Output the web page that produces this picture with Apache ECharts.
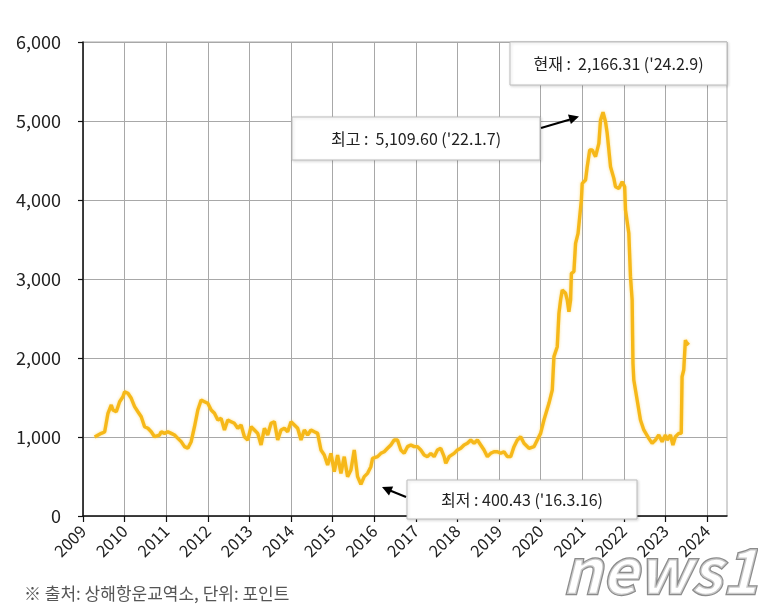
<!DOCTYPE html>
<html>
<head>
<meta charset="utf-8">
<script src="https://cdn.jsdelivr.net/npm/echarts@6/dist/echarts.min.js"></script>
<style>
html,body{margin:0;padding:0;background:#fff;}
#chart{width:758px;height:610px;}
</style>
</head>
<body>
<div id="chart"></div>
<script>
// Decimal position on the year axis (as plotted) and SCFI index value
const dates = [
2009.28,2009.44,2009.52,2009.60,2009.68,2009.72,2009.80,2009.88,2009.96,2010.00,
2010.08,2010.16,2010.24,2010.32,2010.40,2010.48,2010.56,2010.64,2010.72,2010.84,
2010.88,2010.96,2011.04,2011.12,2011.20,2011.28,2011.36,2011.44,2011.52,2011.60,
2011.68,2011.76,2011.84,2011.92,2012.00,2012.08,2012.16,2012.24,2012.32,2012.40,
2012.48,2012.56,2012.64,2012.72,2012.80,2012.88,2012.96,2013.04,2013.12,2013.20,
2013.28,2013.36,2013.44,2013.52,2013.60,2013.68,2013.76,2013.84,2013.92,2014.00,
2014.08,2014.16,2014.24,2014.32,2014.40,2014.48,2014.56,2014.64,2014.72,2014.80,
2014.88,2014.96,2015.04,2015.12,2015.20,2015.28,2015.36,2015.44,2015.52,2015.60,
2015.68,2015.76,2015.84,2015.92,2015.96,2016.08,2016.16,2016.24,2016.32,2016.40,
2016.48,2016.56,2016.64,2016.72,2016.80,2016.88,2016.96,2017.04,2017.12,2017.20,
2017.28,2017.36,2017.44,2017.52,2017.60,2017.68,2017.72,2017.80,2017.92,2018.00,
2018.08,2018.16,2018.24,2018.32,2018.40,2018.48,2018.56,2018.64,2018.72,2018.80,
2018.88,2018.96,2019.04,2019.12,2019.20,2019.28,2019.36,2019.44,2019.52,2019.60,
2019.72,2019.84,2019.92,2020.00,2020.08,2020.20,2020.28,2020.32,2020.40,2020.44,
2020.48,2020.52,2020.60,2020.64,2020.68,2020.72,2020.74,2020.80,2020.84,2020.90,
2020.94,2020.98,2021.00,2021.08,2021.12,2021.18,2021.24,2021.32,2021.40,2021.44,
2021.50,2021.56,2021.60,2021.68,2021.76,2021.80,2021.88,2021.96,2022.02,2022.04,
2022.12,2022.16,2022.20,2022.21,2022.22,2022.24,2022.32,2022.40,2022.48,2022.60,
2022.68,2022.76,2022.84,2022.92,2023.00,2023.04,2023.12,2023.18,2023.24,2023.32,
2023.38,2023.40,2023.44,2023.48,2023.50,2023.56
];
const values = [
1000,1046,1063,1300,1405,1342,1320,1447,1510,1573,
1553,1490,1384,1320,1257,1130,1110,1067,1004,1025,
1067,1046,1067,1046,1025,983,941,878,857,941,
1130,1342,1468,1447,1426,1342,1300,1215,1236,1089,
1215,1194,1173,1110,1152,1004,962,1130,1089,1046,
899,1110,1025,1173,1194,962,1089,1110,1067,1194,
1152,1110,962,1089,1025,1089,1067,1046,835,772,
646,793,561,772,540,751,498,582,835,498,
400,498,540,624,730,751,793,814,857,899,
962,962,835,793,878,899,878,878,835,772,
751,793,751,835,857,751,667,751,793,835,
857,899,920,962,920,962,899,835,751,793,
814,814,793,814,751,751,878,962,1004,920,
857,878,962,1046,1215,1426,1595,2017,2143,2565,
2734,2861,2819,2734,2586,2734,3072,3093,3451,3578,
3789,4000,4211,4253,4422,4633,4633,4548,4717,5013,
5110,4991,4844,4422,4274,4168,4147,4232,4168,3873,
3578,3030,2734,2300,1930,1722,1468,1215,1089,983,
920,962,1025,941,1025,962,1025,899,1004,1046,
1046,1763,1848,2228,2200,2166
];
const yearTicks = [2009,2010,2011,2012,2013,2014,2015,2016,2017,2018,2019,2020,2021,2022,2023,2024];
const yTicks = [0,1000,2000,3000,4000,5000,6000];
const noteNow = "현재 :  2,166.31 ('24.2.9)";
const noteHigh = "최고 :  5,109.60 ('22.1.7)";
const noteLow = "최저 : 400.43 ('16.3.16)";
const sourceNote = "※ 출처: 상해항운교역소, 단위: 포인트";

const FONT = "'Noto Sans CJK KR','Noto Sans',sans-serif";
const chart = echarts.init(document.getElementById('chart'));
const seriesData = dates.map((d, i) => [d, values[i]]);

function box(x, y, w, h, text) {
  return [
    {type:'rect', shape:{x:x, y:y, width:w, height:h}, z:10,
     style:{fill:'#fff', stroke:'#bdbdbd', lineWidth:1, shadowBlur:3, shadowColor:'rgba(0,0,0,0.15)', shadowOffsetX:1, shadowOffsetY:1}},
    {type:'text', x: x + w/2, y: y + h/2, z:11,
     style:{text:text, fill:'#222', font:'16px ' + FONT, align:'center', verticalAlign:'middle'}}
  ];
}

chart.setOption({
  animation:false,
  backgroundColor:'#fff',
  grid:{left:83, right:31, top:42, bottom:94, show:true, borderColor:'#a8a8a8', borderWidth:1},
  xAxis:{
    type:'value', min:2009, max:2024.48, interval:1,
    axisLine:{show:true, lineStyle:{color:'#111', width:1.5}},
    axisTick:{show:true, length:6, lineStyle:{color:'#111', width:1.2}, customValues: yearTicks},
    axisLabel:{rotate:45, color:'#222', fontSize:16.5, fontFamily:FONT, margin:12,
      customValues: yearTicks, formatter: v => String(Math.round(v))},
    splitLine:{show:true, lineStyle:{color:'#a8a8a8', width:1}}
  },
  yAxis:{
    type:'value', min:0, max:6000, interval:1000,
    axisLine:{show:true, lineStyle:{color:'#111', width:1.5}},
    axisTick:{show:true, length:5, lineStyle:{color:'#111', width:1.2}},
    axisLabel:{color:'#222', fontSize:18, fontFamily:FONT, margin:22,
      formatter: v => v.toLocaleString('en-US')},
    splitLine:{show:true, lineStyle:{color:'#a8a8a8', width:1}}
  },
  series:[{
    type:'line', data:seriesData, showSymbol:false, symbol:'none',
    lineStyle:{color:'#F6B819', width:3.4, shadowBlur:3, shadowColor:'rgba(250,210,90,0.7)'},
    z:5
  }],
  graphic:[
    ...box(510, 42, 217, 43, noteNow),
    ...box(292, 117, 248, 43, noteHigh),
    ...box(407, 480, 230, 39, noteLow),
    {type:'line', z:12, shape:{x1:541, y1:128, x2:570, y2:119.5}, style:{stroke:'#000', lineWidth:2}},
    {type:'polygon', z:12, shape:{points:[[579,116.5],[570.9,124.1],[568.0,114.6]]}, style:{fill:'#000'}},
    {type:'line', z:12, shape:{x1:406, y1:497, x2:390, y2:490.5}, style:{stroke:'#000', lineWidth:2}},
    {type:'polygon', z:12, shape:{points:[[382,487],[393.2,486.6],[389.0,495.6]]}, style:{fill:'#000'}},
    {type:'text', x:24, y:594, style:{text:sourceNote, fill:'#555', font:'17px ' + FONT, verticalAlign:'middle'}},
    {type:'text', x:562, y:570, z:20, style:{text:'news1', fill:'rgba(255,255,255,0.55)', stroke:'rgba(110,110,110,0.8)', lineWidth:2.5,
      font:'italic bold 62px ' + FONT, verticalAlign:'middle'}}
  ]
});
</script>
</body>
</html>
